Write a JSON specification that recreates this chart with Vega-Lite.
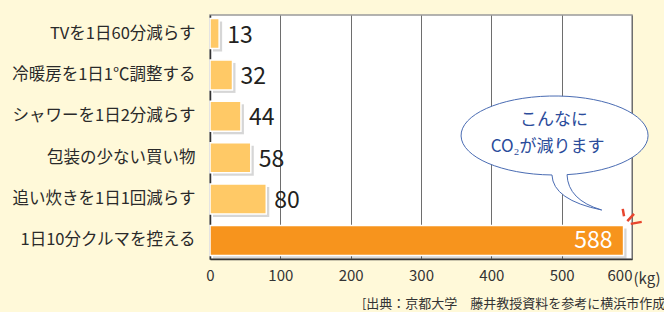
{
  "$schema": "https://vega.github.io/schema/vega-lite/v6.json",
  "width": 422,
  "height": 244,
  "autosize": {"type": "none"},
  "padding": {"left": 210, "top": 15, "right": 32, "bottom": 53},
  "background": "#FFF9D9",
  "config": {
    "font": "Noto Sans CJK JP",
    "view": {"fill": "white", "stroke": "#9a9a9a", "strokeWidth": 1.5}
  },
  "datasets": {
    "bars": [
      {"item": "TVを1日60分減らす", "kg": 13, "kind": "small"},
      {"item": "冷暖房を1日1℃調整する", "kg": 32, "kind": "small"},
      {"item": "シャワーを1日2分減らす", "kg": 44, "kind": "small"},
      {"item": "包装の少ない買い物", "kg": 58, "kind": "small"},
      {"item": "追い炊きを1日1回減らす", "kg": 80, "kind": "small"},
      {"item": "1日10分クルマを控える", "kg": 588, "kind": "big"}
    ],
    "notes": [
      {"kind": "bubble", "kg": 489.8, "row": 2.963, "label": ""},
      {"kind": "text", "kg": 489, "row": 2.57, "label": "こんなに"},
      {"kind": "text", "kg": 480, "row": 3.258, "label": "CO₂が減ります"},
      {"kind": "spark", "kg": 597.2, "row": 4.94, "label": ""},
      {"kind": "source", "kg": 216, "row": 7.107, "label": "[出典：京都大学　藤井教授資料を参考に横浜市作成"}
    ]
  },
  "layer": [
    {
      "data": {"name": "bars"},
      "encoding": {
        "x": {
          "field": "kg", "type": "quantitative",
          "scale": {"domain": [0, 600], "nice": false},
          "axis": {
            "values": [0, 100, 200, 300, 400, 500, 600],
            "grid": true, "gridColor": "#6e6e6e", "gridWidth": 1,
            "ticks": false, "domainColor": "#333333", "domainWidth": 1.5,
            "labelFontSize": 15, "labelColor": "#333333", "labelPadding": 9, "labelFlush": false,
            "labelAlign": {"condition": {"test": "datum.value === 600", "value": "right"}, "value": "center"},
            "title": "(kg)", "titleX": 423, "titleY": 19, "titleAlign": "left",
            "titleBaseline": "middle", "titleFontWeight": "normal", "titleFontSize": 15,
            "titleColor": "#333333"
          }
        },
        "y": {
          "field": "item", "type": "nominal", "sort": null,
          "scale": {"paddingInner": 0.275, "paddingOuter": 0.085},
          "axis": {
            "title": null, "domainColor": "#333333", "domainWidth": 1.5, "ticks": false,
            "labelFontSize": 16.5, "labelColor": "#2a2a2a", "labelPadding": 15, "labelLimit": 300
          }
        }
      },
      "layer": [
        {
          "mark": {"type": "bar", "color": "#000000", "opacity": 0.16, "xOffset": 3, "yOffset": 3}
        },
        {
          "mark": {"type": "bar", "stroke": "white", "strokeWidth": 1.5},
          "encoding": {
            "color": {
              "field": "kind", "type": "nominal",
              "scale": {"domain": ["small", "big"], "range": ["#FFC966", "#F7941D"]},
              "legend": null
            }
          }
        },
        {
          "transform": [{"filter": "datum.kind === 'small'"}],
          "mark": {"type": "text", "align": "left", "baseline": "middle", "dx": 8, "dy": 2, "fontSize": 23, "color": "#231f20"},
          "encoding": {"text": {"field": "kg", "type": "quantitative"}}
        },
        {
          "transform": [{"filter": "datum.kind === 'big'"}],
          "mark": {"type": "text", "align": "right", "baseline": "middle", "dx": -11, "dy": 1, "fontSize": 23, "color": "white"},
          "encoding": {"text": {"field": "kg", "type": "quantitative"}}
        }
      ]
    },
    {
      "data": {"name": "notes"},
      "encoding": {
        "x": {"field": "kg", "type": "quantitative", "scale": {"domain": [0, 600], "nice": false}, "axis": null},
        "y": {"field": "row", "type": "quantitative", "scale": {"domain": [0, 6], "nice": false, "reverse": true, "zero": false}, "axis": null}
      },
      "layer": [
        {
          "transform": [{"filter": "datum.kind === 'bubble'"}],
          "mark": {
            "type": "point",
            "shape": "M 0.134 0.4187 A 1 0.4225 0 1 0 -0.027 0.4223 Q -0.016 0.69 0.505 0.797 Q 0.144 0.69 0.134 0.4187 Z",
            "size": 34969, "filled": true, "fill": "white", "fillOpacity": 1,
            "stroke": "#4a6cb3", "strokeWidth": 1, "strokeOpacity": 1, "opacity": 1
          }
        },
        {
          "transform": [{"filter": "datum.kind === 'spark'"}],
          "mark": {
            "type": "point",
            "shape": "M -0.73 -0.7 L -0.6 0.03 M -0.27 0.53 L 0.4 -0.2 M 0.07 0.8 L 1.17 0.6",
            "size": 400, "filled": false, "stroke": "#E8462E", "strokeWidth": 2.5, "strokeOpacity": 1, "opacity": 1
          }
        },
        {
          "transform": [{"filter": "datum.kind === 'text'"}],
          "mark": {"type": "text", "align": "center", "baseline": "middle", "fontSize": 17, "color": "#2b4c9b"},
          "encoding": {"text": {"field": "label"}}
        },
        {
          "transform": [{"filter": "datum.kind === 'source'"}],
          "mark": {"type": "text", "align": "left", "baseline": "middle", "fontSize": 13, "color": "#333333"},
          "encoding": {"text": {"field": "label"}}
        }
      ]
    }
  ],
  "resolve": {"scale": {"y": "independent", "x": "independent"}}
}
